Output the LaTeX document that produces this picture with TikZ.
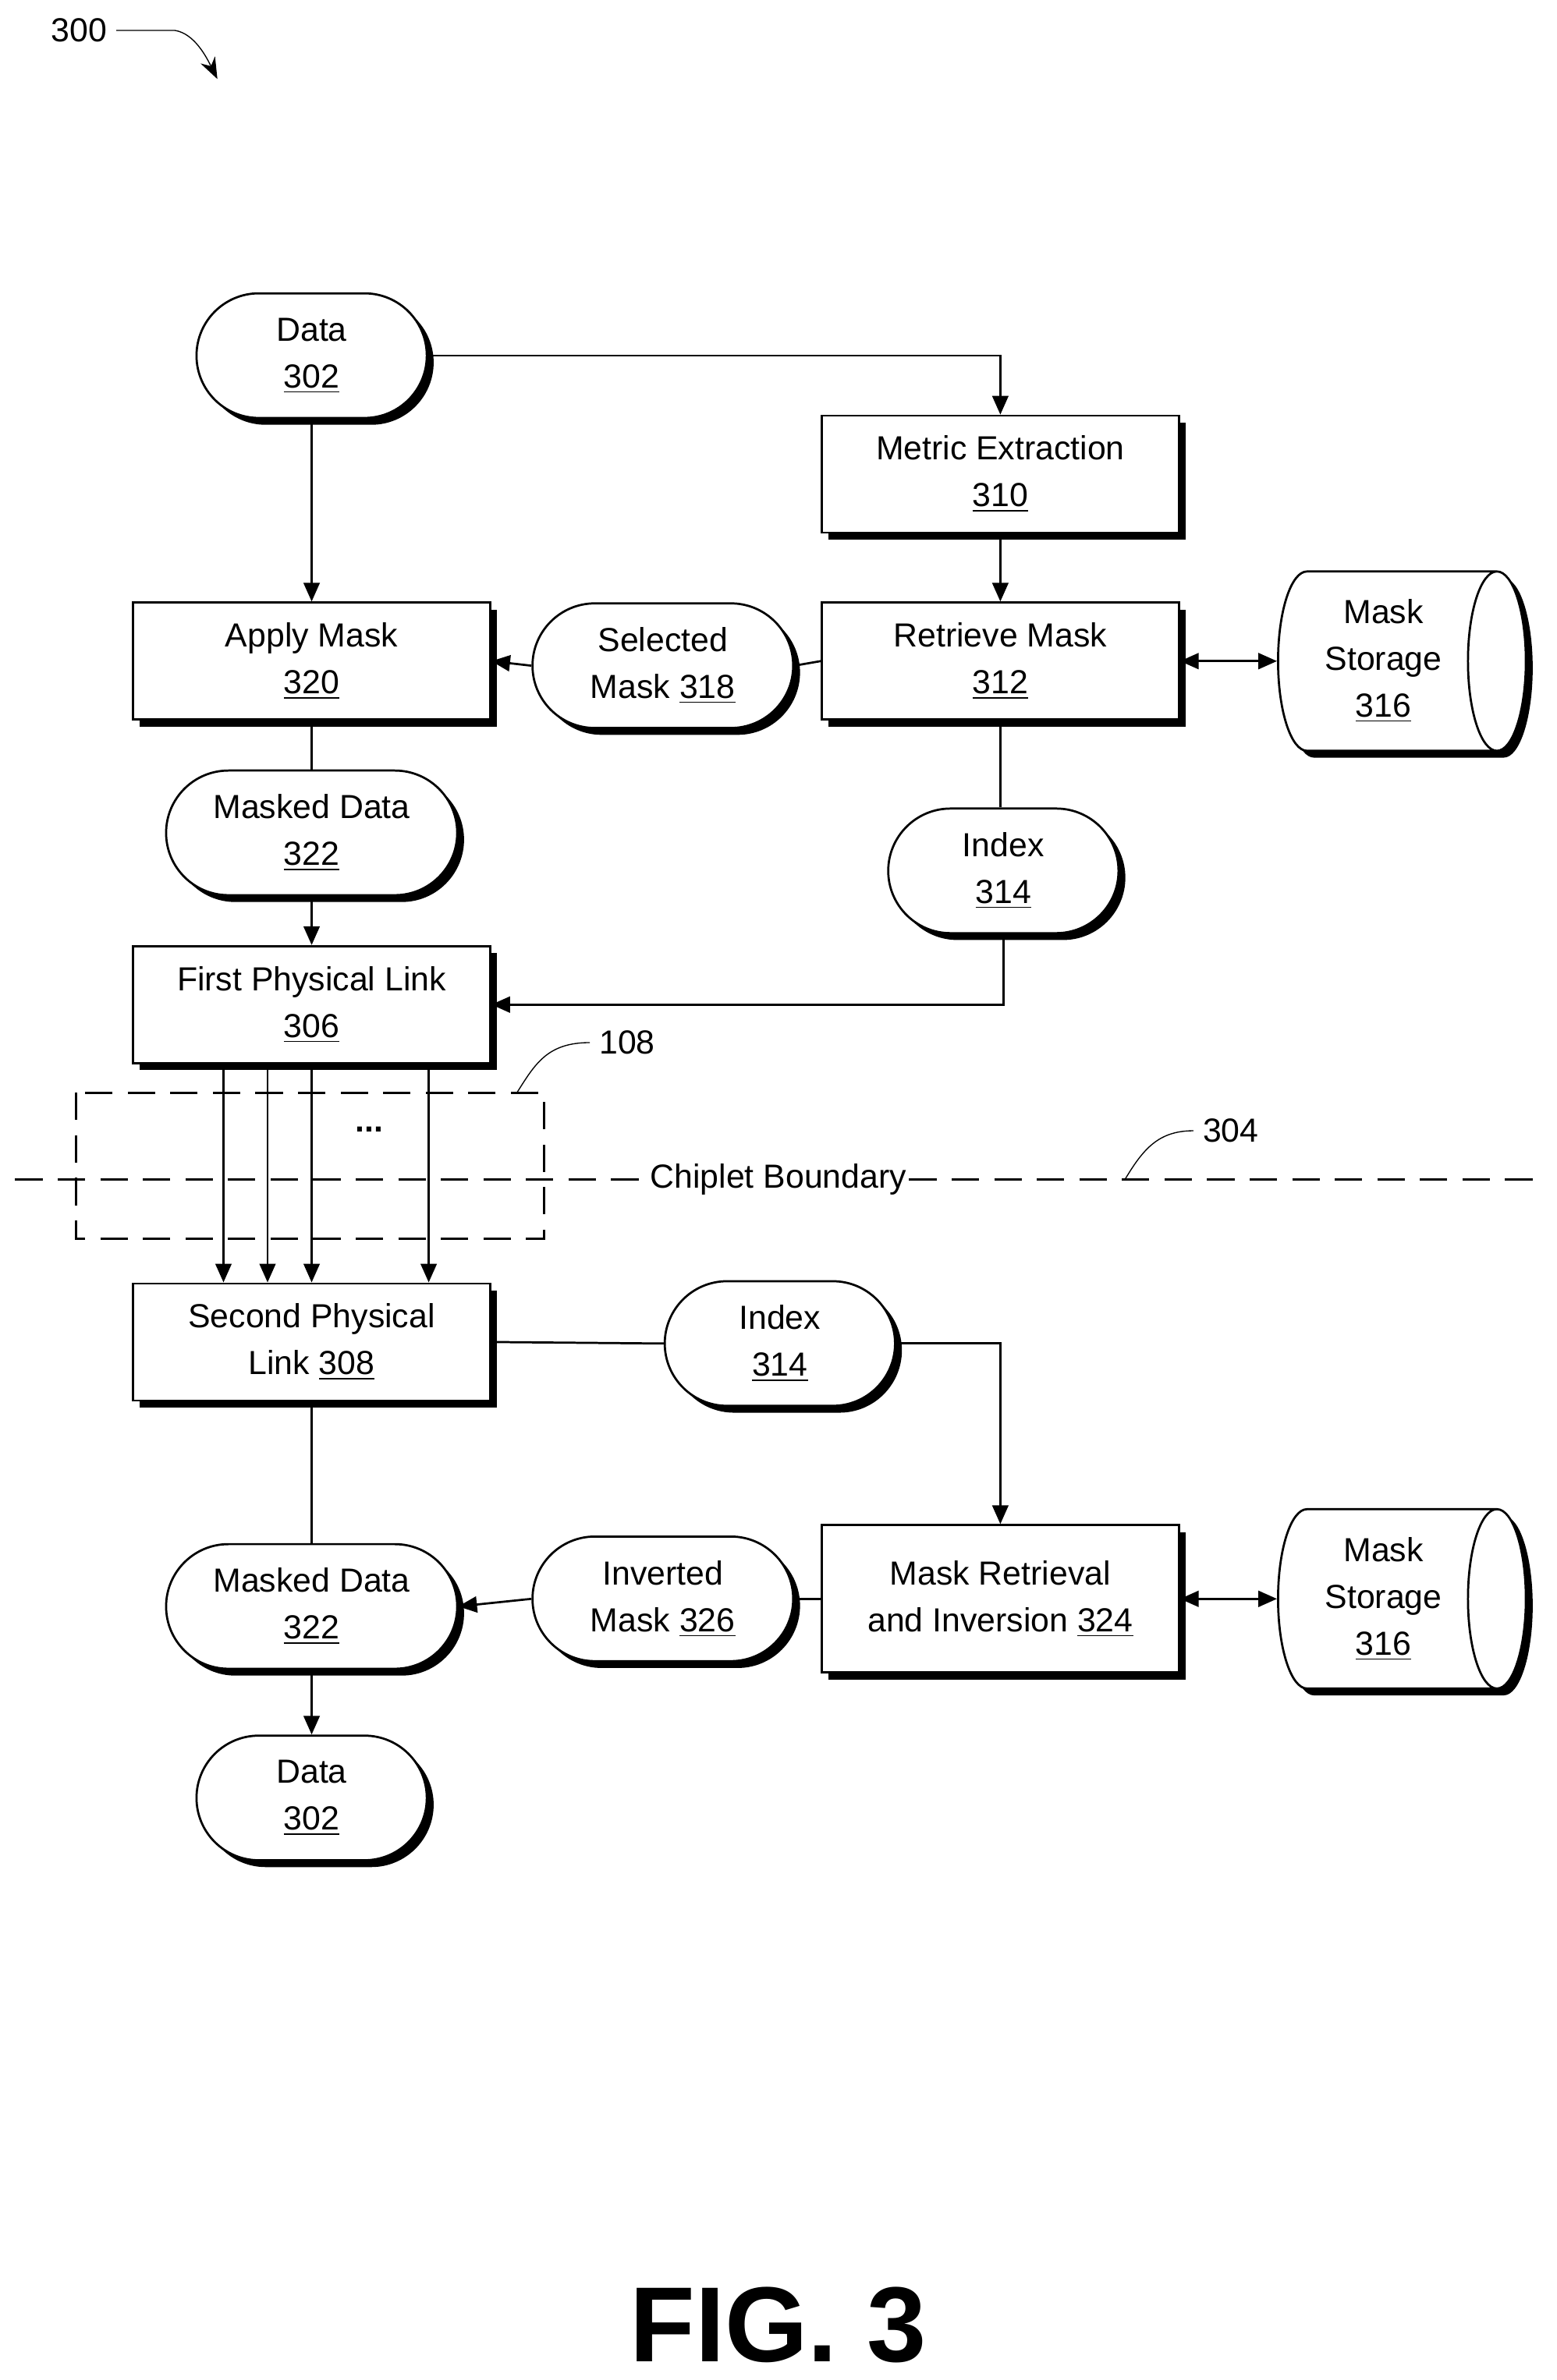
\documentclass[tikz,border=0pt]{standalone}
\usepackage{fontspec}
\setmainfont{Liberation Sans}
\usetikzlibrary{shapes.geometric,shapes.misc,shadows,arrows.meta,calc}
\begin{document}
\begin{tikzpicture}[x=0.02cm,y=-0.02cm,
  every node/.style={font=\fontsize{12.5}{17.5}\selectfont,align=center},
  shd/.style={drop shadow={shadow xshift=0.09cm,shadow yshift=-0.09cm,opacity=1,fill=black}},
  box/.style={draw,thick,fill=white,shd,minimum width=235*0.02cm,minimum height=77*0.02cm,inner sep=1pt},
  term/.style={draw,thick,fill=white,shd,rounded rectangle,minimum height=82*0.02cm,inner sep=1pt},
  store/.style={draw,thick,fill=white,shd,cylinder,shape aspect=0.45,minimum width=118*0.02cm,minimum height=163*0.02cm,inner sep=1pt},
  ar/.style={thick,-{Triangle[length=7pt,width=6pt]}},
  dar/.style={thick,{Triangle[length=7pt,width=6pt]}-{Triangle[length=7pt,width=6pt]}},
  ln/.style={thick},
  dsh/.style={thick,dash pattern=on 18*0.02cm off 10*0.02cm}]
\useasboundingbox (0,0) rectangle (1024,1566);
% top half
\node[term,minimum width=155*0.02cm] (d1) at (205,234) {Data\\\underline{302}};
\node[box] (me) at (658,312) {Metric Extraction\\\underline{310}};
\node[box] (am) at (205,435) {Apply Mask\\\underline{320}};
\node[term,minimum width=175*0.02cm] (sm) at (436,438) {Selected\\Mask \underline{318}};
\node[box] (rm) at (658,435) {Retrieve Mask\\\underline{312}};
\node[store] (ms1) at (910,435) {Mask\\Storage\\\underline{316}};
\node[term,minimum width=195*0.02cm] (md1) at (205,548) {Masked Data\\\underline{322}};
\node[term,minimum width=155*0.02cm] (ix1) at (660,573) {Index\\\underline{314}};
\node[box] (fl) at (205,661) {First Physical Link\\\underline{306}};
% boundary
\draw[dsh] (50,719) rectangle (358,815);
\node (dots) at (243,743) {\textbf{...}};
\draw[dsh] (10,776) -- (1015,776);
\node[fill=white,inner sep=1pt] (cb) at (512,776) {Chiplet Boundary};
\coordinate (l108) at (340,719);
\node[anchor=west] (t108) at (388,686) {108};
\draw[thin] (l108) .. controls (352,700) and (360,686) .. (t108.west);
\coordinate (l304) at (740,776);
\node[anchor=west] (t304) at (785,744) {304};
\draw[thin] (l304) .. controls (752,756) and (762,744) .. (t304.west);
% bottom half
\node[box] (sl) at (205,883) {Second Physical\\Link \underline{308}};
\node[term,minimum width=155*0.02cm] (ix2) at (513,884) {Index\\\underline{314}};
\node[box,minimum height=97*0.02cm] (mr) at (658,1052) {Mask Retrieval\\and Inversion \underline{324}};
\node[term,minimum width=175*0.02cm] (im) at (436,1052) {Inverted\\Mask \underline{326}};
\node[store] (ms2) at (910,1052) {Mask\\Storage\\\underline{316}};
\node[term,minimum width=195*0.02cm] (md2) at (205,1057) {Masked Data\\\underline{322}};
\node[term,minimum width=155*0.02cm] (d2) at (205,1183) {Data\\\underline{302}};
% labels
\node (t300) at (52,20) {300};
\coordinate (a300) at (143,52);
\draw[thin,-{Stealth[length=8pt]}] (t300.east) -- (115,20) .. controls (128,22) and (136,38) .. (a300);
\node[font=\fontsize{40}{40}\selectfont\bfseries] (fig) at (512,1530) {FIG. 3};
% connectors
\draw[ar] (d1.east) -| (me.north);
\draw[ar] (d1.south) -- (am.north);
\draw[ar] (me.south) -- (rm.north);
\draw[ln] (rm.west) -- (sm.east);
\draw[ar] (sm.west) -- (am.east);
\draw[dar] (rm.east) -- (ms1.west);
\draw[ln] (rm.south) -- (rm.south |- ix1.north);
\draw[ar] (ix1.south) |- (fl.east);
\draw[ln] (am.south) -- (md1.north);
\draw[ar] (md1.south) -- (fl.north);
\foreach \dx in {-58,-29,0,77}
  \draw[ar] ([xshift=\dx*0.02cm]fl.south) -- ([xshift=\dx*0.02cm]sl.north);
\draw[ln] (sl.east) -- (ix2.west);
\draw[ar] (ix2.east) -| (mr.north);
\draw[ln] (mr.west) -- (im.east);
\draw[ar] (im.west) -- (md2.east);
\draw[dar] (mr.east) -- (ms2.west);
\draw[ln] (sl.south) -- (md2.north);
\draw[ar] (md2.south) -- (d2.north);
\end{tikzpicture}
\end{document}
